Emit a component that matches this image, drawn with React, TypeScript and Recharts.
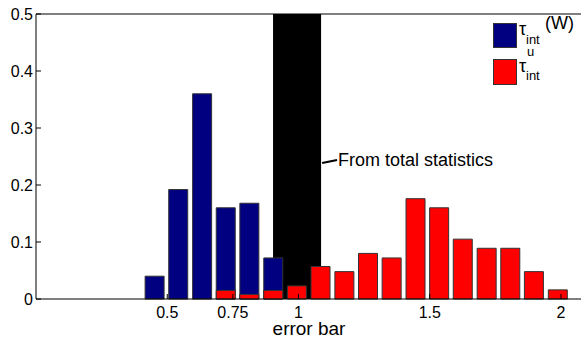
import { BarChart, Bar, XAxis, YAxis, ReferenceArea, ReferenceLine } from 'recharts';

// bin centres (error bar)
const binCenters = [
  0.091, 0.182, 0.272, 0.362, 0.453, 0.543, 0.634, 0.724, 0.814, 0.905, 0.995,
  1.085, 1.176, 1.266, 1.356, 1.447, 1.537, 1.627, 1.718, 1.808, 1.898, 1.989,
];
const tauW = [
  0, 0, 0, 0, 0.04, 0.192, 0.36, 0.16, 0.168, 0.072, 0,
  0, 0, 0, 0, 0, 0, 0, 0, 0, 0, 0,
];
const tauU = [
  0, 0, 0, 0, 0, 0, 0, 0.015, 0.008, 0.015, 0.023,
  0.057, 0.048, 0.08, 0.072, 0.176, 0.16, 0.105, 0.089, 0.089, 0.048, 0.016,
];
const xTicks = [0.5, 0.75, 1, 1.5, 2];
const yTicks = [0, 0.1, 0.2, 0.3, 0.4, 0.5];
const totalBand = [0.903, 1.086];
const arrow = [
  { x: 1.09, y: 0.2386 },
  { x: 1.147, y: 0.2439 },
];

const BLUE = '#000080';
const RED = '#ff0000';
const FONT = '"Liberation Sans", Arial, Helvetica, sans-serif';

const rows = binCenters.map((x, i) => ({ x, w: tauW[i], u: tauU[i] }));

function LegendBox() {
  return (
    <svg
      width={581}
      height={338}
      style={{ position: 'absolute', left: 0, top: 0, pointerEvents: 'none' }}
      fontFamily={FONT}
    >
      <rect x={493.5} y={23.5} width={23} height={24} fill={BLUE} stroke="#333" />
      <text x={519} y={35} fontSize={18}>τ</text>
      <text x={526} y={44} fontSize={13}>int</text>
      <text x={545} y={29} fontSize={18}>(W)</text>

      <rect x={493.5} y={59.5} width={23} height={25} fill={RED} stroke="#333" />
      <text x={519} y={72} fontSize={18}>τ</text>
      <text x={527} y={56} fontSize={13}>u</text>
      <text x={526} y={80} fontSize={13}>int</text>
    </svg>
  );
}

export default function App() {
  const tick = { fill: '#000', fontSize: 16, fontFamily: FONT };
  return (
    <div
      style={{
        position: 'absolute',
        left: 0,
        top: 0,
        width: 581,
        height: 338,
        overflow: 'hidden',
        background: '#fff',
      }}
    >
      <BarChart width={590} height={338} data={rows} margin={{ top: 0, right: 0, bottom: 0, left: 0 }}>
        <XAxis
          xAxisId="bottom"
          type="number"
          dataKey="x"
          domain={[0, 2.08]}
          ticks={xTicks}
          tickFormatter={(v) => String(v)}
          tick={tick}
          tickSize={-5}
          tickMargin={13}
          height={39}
          stroke="#000"
          label={{ value: 'error bar', position: 'insideBottom', offset: 3, fill: '#000', fontSize: 19, fontFamily: FONT }}
        />
        <XAxis
          xAxisId="top"
          orientation="top"
          type="number"
          dataKey="x"
          domain={[0, 2.08]}
          ticks={xTicks}
          tick={false}
          tickSize={-5}
          height={14}
          stroke="#000"
        />
        <YAxis
          yAxisId="left"
          type="number"
          domain={[0, 0.5]}
          ticks={yTicks}
          tickFormatter={(v) => String(v)}
          tick={tick}
          tickSize={-5}
          tickMargin={8}
          width={36}
          stroke="#000"
        />
        <YAxis
          yAxisId="right"
          orientation="right"
          type="number"
          domain={[0, 0.5]}
          ticks={yTicks}
          tick={false}
          tickSize={-5}
          width={8}
          stroke="#000"
        />
        <ReferenceArea
          xAxisId="bottom"
          yAxisId="left"
          x1={totalBand[0]}
          x2={totalBand[1]}
          fill="#000"
          fillOpacity={1}
          stroke="none"
        />
        <Bar
          xAxisId="bottom"
          yAxisId="left"
          dataKey="w"
          name="τint(W)"
          fill={BLUE}
          stroke="#333"
          strokeWidth={1}
          barSize={19}
          isAnimationActive={false}
        />
        <Bar
          xAxisId="top"
          yAxisId="left"
          dataKey="u"
          name="τuint"
          fill={RED}
          stroke="#333"
          strokeWidth={1}
          barSize={19}
          isAnimationActive={false}
        />
        <ReferenceLine
          xAxisId="bottom"
          yAxisId="left"
          segment={arrow}
          stroke="#000"
          strokeWidth={2}
          label={(p: any) => (
            <text
              x={p.viewBox.x + p.viewBox.width + 1}
              y={p.viewBox.y + 6}
              fontSize={18}
              fontFamily={FONT}
              fill="#000"
            >
              From total statistics
            </text>
          )}
        />
      </BarChart>
      <LegendBox />
    </div>
  );
}
